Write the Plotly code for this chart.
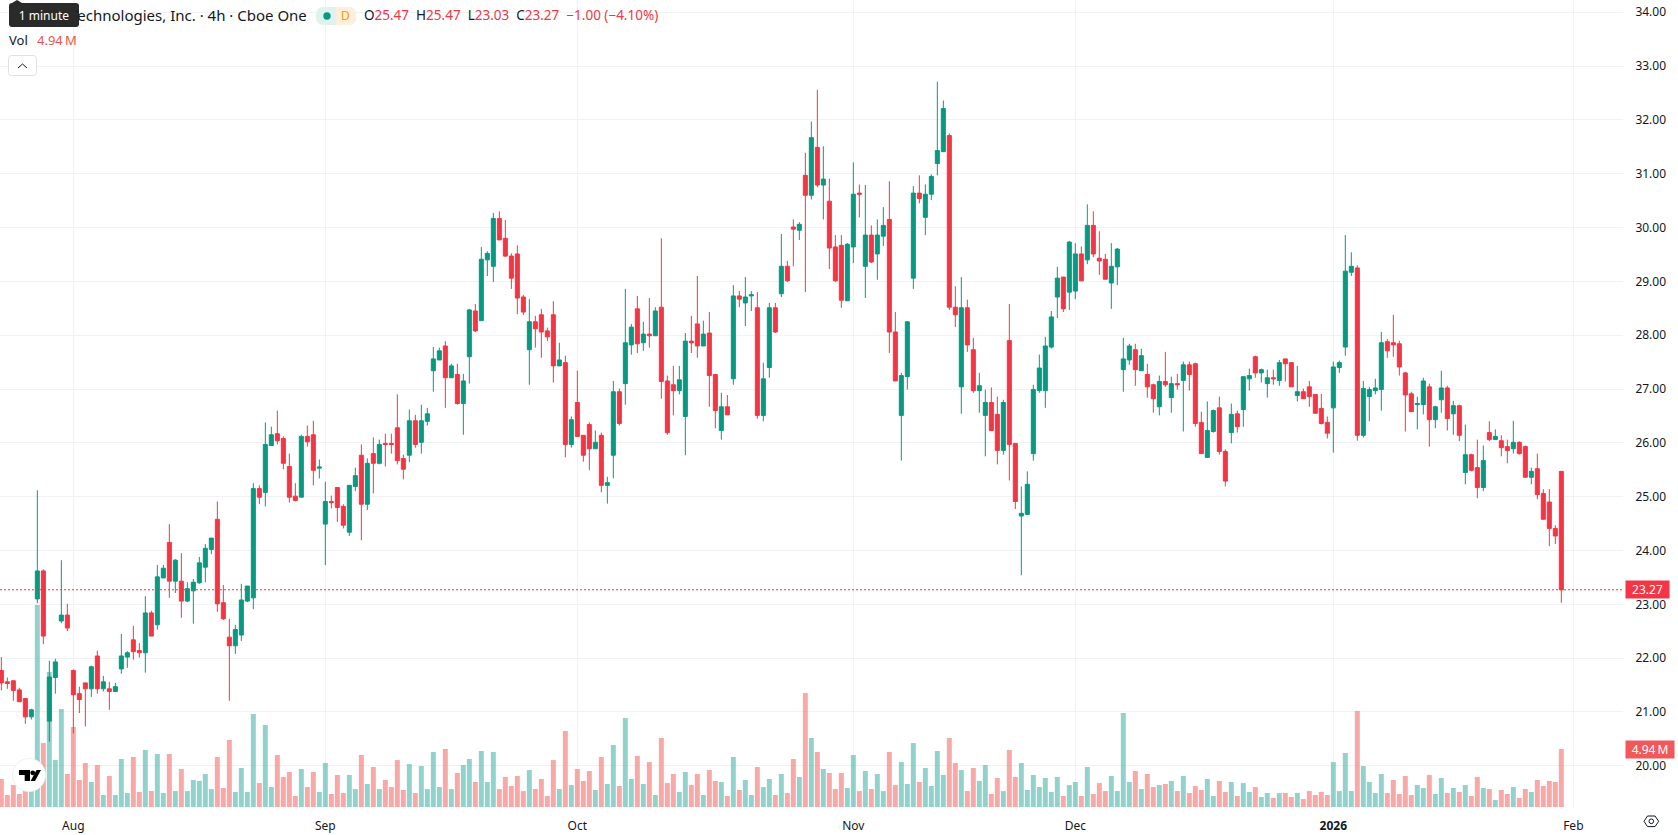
import plotly.graph_objects as go

# OHLC prices for each 4h bar, oldest first
opens = [
    21.77,21.56,21.58,21.41,21.25,20.91,23.10,23.62,20.83,21.64,
    22.69,22.80,21.77,21.34,21.54,21.43,22.04,21.43,21.43,21.38,
    21.80,22.02,22.34,22.14,22.10,22.84,22.62,23.49,24.15,23.43,
    23.43,23.06,23.25,23.40,23.69,24.02,24.58,23.03,22.39,22.23,
    22.43,23.06,23.12,25.15,25.08,25.95,26.17,26.08,25.56,25.01,
    24.99,26.12,26.15,25.53,24.49,24.91,25.17,24.82,24.34,25.19,
    25.77,24.86,25.80,25.62,25.99,25.99,26.28,25.71,25.77,26.41,
    26.01,26.40,27.34,27.54,27.80,27.21,27.27,26.73,27.60,28.45,
    28.27,29.40,29.28,30.17,29.80,29.47,29.51,28.71,27.73,28.25,
    28.38,28.08,28.38,27.43,27.49,25.97,26.75,26.14,26.34,25.89,
    26.14,25.21,25.77,26.95,27.10,27.82,28.49,27.86,28.02,27.99,
    28.52,27.15,27.08,26.97,26.49,27.89,28.21,27.80,28.04,27.27,
    26.23,26.67,27.19,28.73,28.60,28.73,28.51,26.51,27.40,28.51,
    28.77,29.28,30.01,29.95,30.97,30.60,31.49,30.79,30.49,29.64,
    29.67,28.64,29.64,30.64,29.28,29.86,29.51,29.84,30.15,28.06,
    26.51,27.23,29.06,30.64,30.19,30.62,31.19,31.41,31.71,28.52,
    27.04,28.51,27.73,26.97,26.51,26.75,26.53,25.86,27.90,25.99,
    24.64,24.67,25.80,26.97,26.97,27.78,28.71,29.08,28.80,28.82,
    29.51,29.40,30.04,29.43,29.41,28.97,29.27,27.36,27.54,27.73,
    27.34,27.27,27.08,26.67,27.14,26.84,27.10,27.16,27.45,27.47,
    26.38,25.73,26.21,26.65,25.84,26.19,26.54,26.62,27.19,27.60,
    27.30,27.10,27.21,27.16,27.56,27.49,26.88,26.95,27.04,26.90,
    26.64,26.38,26.65,27.40,27.78,29.17,29.25,26.14,26.86,26.97,
    26.99,27.88,27.86,27.84,27.30,26.91,26.71,26.71,27.04,26.43,
    26.80,27.02,26.54,26.69,25.45,25.78,25.54,25.17,26.19,26.06,
    26.04,25.93,25.89,26.01,25.93,25.36,25.52,25.06,24.90,24.41,
    25.47,
]
highs = [
    22.02,21.64,21.58,21.45,21.25,21.06,25.12,23.65,21.95,21.99,
    23.82,23.01,21.79,21.47,21.54,21.86,22.14,21.67,21.56,21.54,
    22.45,22.13,22.60,22.28,23.15,22.88,23.73,23.73,24.49,23.84,
    23.95,23.41,23.47,23.88,24.12,24.23,24.91,23.36,22.73,22.62,
    23.38,23.34,25.25,25.21,26.38,26.30,26.60,26.12,25.80,25.25,
    26.15,26.32,26.41,25.69,25.28,25.02,25.17,24.86,25.21,25.54,
    25.97,25.71,26.10,26.06,26.17,26.17,26.90,25.78,26.62,26.52,
    26.71,26.65,27.78,27.77,27.89,27.47,27.47,27.28,28.49,28.58,
    29.64,29.56,30.27,30.30,30.14,29.52,29.67,28.75,28.67,28.36,
    28.49,28.14,28.63,27.86,27.62,26.49,27.34,26.14,26.38,26.23,
    26.19,25.37,27.15,27.01,28.86,28.21,28.73,28.25,28.69,28.52,
    29.80,27.25,27.43,27.43,28.04,28.36,29.10,28.27,28.43,27.28,
    26.93,26.89,28.93,28.82,29.08,28.82,28.80,27.49,28.60,28.60,
    29.88,29.38,30.15,30.10,31.39,31.97,32.56,31.51,30.91,29.86,
    29.86,29.71,31.21,30.80,30.79,30.04,30.15,30.38,30.86,28.43,
    27.30,28.25,30.77,30.97,30.80,30.99,32.71,32.36,31.75,28.91,
    29.08,28.66,27.95,27.30,26.99,27.03,26.86,26.80,28.58,25.99,
    25.19,25.47,27.08,27.64,27.97,28.45,29.27,29.08,29.75,29.71,
    29.65,30.43,30.30,29.93,29.51,29.71,29.62,27.95,27.84,27.84,
    27.75,27.47,27.10,27.25,27.69,27.23,27.28,27.51,27.51,27.49,
    26.58,26.77,26.62,26.86,25.88,26.73,26.60,27.23,27.38,27.62,
    27.38,27.36,27.36,27.54,27.56,27.49,27.43,27.01,27.15,26.90,
    26.91,26.49,27.51,27.53,29.86,29.54,29.30,27.15,27.04,27.19,
    28.06,27.93,28.38,27.90,27.32,26.95,26.86,27.21,27.10,26.69,
    27.34,27.06,26.78,26.71,26.34,25.80,26.06,25.95,26.40,26.25,
    26.14,26.06,26.41,26.03,25.95,25.54,25.80,25.14,25.14,24.47,
    25.47,
]
lows = [
    21.40,21.43,21.21,21.19,20.78,20.86,23.02,22.26,20.45,21.34,
    22.65,22.50,20.60,20.98,20.73,21.28,21.34,21.38,21.04,21.38,
    21.71,21.82,21.97,22.01,21.73,22.41,22.53,23.49,23.12,23.21,
    22.75,23.04,22.64,23.38,23.41,23.93,22.86,22.71,21.21,22.08,
    22.32,23.04,22.91,24.86,24.82,25.95,25.97,25.51,24.89,24.91,
    24.99,25.93,25.21,25.34,23.73,24.78,24.53,24.41,24.27,25.10,
    24.19,24.75,25.06,25.60,25.56,25.80,25.60,25.32,25.64,25.91,
    25.80,26.32,26.95,27.54,26.65,27.21,26.71,26.15,27.10,28.06,
    28.27,29.10,28.99,29.77,29.45,28.86,28.39,28.38,27.08,27.77,
    27.58,27.89,27.12,27.43,25.73,25.91,26.12,25.65,25.49,25.89,
    25.08,24.87,25.34,26.32,26.71,27.64,27.67,27.71,27.77,27.99,
    26.82,26.15,26.51,26.90,25.77,27.67,27.58,27.80,26.67,26.27,
    26.06,26.52,27.08,28.52,28.17,28.45,26.45,26.40,27.21,28.04,
    28.71,28.99,29.28,29.77,28.80,30.52,30.75,30.15,29.23,28.99,
    28.51,28.64,29.34,30.19,28.69,29.34,29.03,29.66,27.67,27.15,
    25.67,26.99,28.86,30.45,29.86,30.51,30.97,31.41,28.47,28.15,
    26.54,27.69,26.93,26.56,25.75,26.23,25.60,25.78,25.30,24.77,
    23.54,24.67,25.67,26.93,26.65,27.75,28.32,28.43,28.47,28.67,
    29.01,29.32,29.45,29.12,29.04,28.49,28.93,26.95,27.45,27.06,
    27.34,26.84,26.56,26.51,27.04,26.56,26.99,26.21,26.97,26.30,
    25.80,25.73,26.19,25.78,25.19,25.99,26.19,26.30,26.97,27.21,
    27.12,26.84,27.08,27.06,27.14,27.04,26.77,26.82,26.67,26.55,
    26.34,26.08,25.82,27.30,27.62,29.10,26.04,26.10,26.40,26.90,
    26.60,27.58,27.60,27.25,26.21,26.58,26.25,26.53,25.93,26.27,
    26.56,26.23,26.15,26.03,25.23,25.47,24.97,25.10,26.03,26.06,
    25.75,25.62,25.80,25.78,25.36,25.23,24.95,24.58,24.08,24.12,
    23.03,
]
closes = [
    21.54,21.53,21.40,21.19,20.91,21.04,23.62,22.41,21.65,21.93,
    22.80,22.56,21.32,21.23,21.43,21.84,21.43,21.56,21.38,21.47,
    22.04,22.10,22.12,22.10,22.84,22.41,23.51,23.67,23.43,23.82,
    23.06,23.29,23.41,23.77,24.04,24.23,23.01,22.73,22.23,22.53,
    23.08,23.34,25.15,24.99,25.97,26.15,26.04,25.62,24.99,24.93,
    26.12,26.02,25.49,25.55,24.91,24.89,24.80,24.47,25.21,25.39,
    24.86,25.62,25.62,25.97,25.97,25.97,25.67,25.51,26.41,25.97,
    26.41,26.54,27.56,27.71,27.21,27.43,26.73,27.15,28.47,28.08,
    29.41,29.52,30.17,29.77,29.47,29.06,28.69,28.43,28.25,28.12,
    28.06,27.97,27.43,27.54,25.97,26.43,26.12,25.77,25.89,26.01,
    25.21,25.26,26.95,26.36,27.86,28.15,27.84,28.02,27.99,28.45,
    27.14,26.19,26.97,27.17,27.89,27.86,27.80,28.02,27.25,26.60,
    26.67,26.52,28.73,28.67,28.71,28.75,26.51,27.19,28.51,28.06,
    29.28,29.01,29.97,30.06,30.60,31.67,30.79,30.90,29.62,29.01,
    28.65,29.69,30.62,30.62,29.86,29.36,29.86,30.04,28.06,27.15,
    27.25,28.25,30.64,30.54,30.62,30.95,31.43,32.21,28.52,28.38,
    28.51,27.82,26.97,27.06,26.75,26.23,25.86,26.75,25.97,24.91,
    24.69,25.23,26.99,27.39,27.80,28.34,29.06,28.49,29.73,29.51,
    29.01,30.04,29.51,29.38,29.04,29.28,29.60,27.56,27.80,27.36,
    27.62,27.04,26.82,27.14,27.08,27.10,27.08,27.45,27.27,26.36,
    25.80,26.23,26.60,25.84,25.29,26.53,26.30,27.23,27.25,27.30,
    27.36,27.21,27.19,27.49,27.47,27.04,26.95,26.82,26.86,26.55,
    26.36,26.18,27.41,27.49,29.19,29.28,26.14,27.01,26.99,27.02,
    27.86,27.71,27.82,27.41,26.89,26.58,26.73,27.15,26.43,26.67,
    27.02,26.45,26.69,26.14,25.78,25.49,25.17,25.67,26.06,26.12,
    25.91,25.86,26.01,25.80,25.36,25.47,25.04,24.58,24.41,24.27,
    23.27,
]
# Volume per bar, in millions of shares
volumes = [
    2.39,1.02,1.87,1.11,1.36,1.36,17.21,5.45,11.50,4.00,
    8.35,2.81,6.82,2.30,3.75,2.13,3.58,1.02,2.64,1.02,
    4.09,1.19,4.26,1.28,4.86,1.36,4.52,1.19,4.52,1.36,
    3.24,1.36,2.30,2.22,2.81,1.53,4.26,1.62,5.71,1.28,
    3.32,1.28,7.92,2.04,6.99,1.70,4.43,2.56,2.98,0.94,
    3.24,1.70,2.98,1.28,3.75,1.11,2.73,1.19,2.73,1.53,
    4.43,1.96,3.41,1.53,2.30,1.70,4.00,1.45,3.66,1.19,
    3.49,1.53,4.69,1.70,4.94,1.53,2.90,3.58,4.09,2.13,
    4.77,2.13,4.69,1.53,2.56,1.79,2.64,1.36,3.15,1.53,
    2.39,0.94,4.00,1.53,6.48,1.87,3.24,2.22,3.07,1.45,
    4.26,1.96,5.28,1.79,7.58,2.39,4.35,1.96,3.83,1.02,
    5.88,2.04,2.81,1.28,2.98,1.87,2.81,1.02,3.15,2.22,
    2.13,0.94,4.26,1.45,2.30,1.02,3.41,1.70,2.39,1.02,
    2.81,1.19,4.09,2.56,9.71,5.88,4.69,3.24,2.90,1.53,
    2.90,1.62,4.43,1.36,3.07,1.53,2.81,1.36,4.69,1.87,
    3.83,1.96,5.45,2.13,3.32,1.79,4.77,2.73,5.88,3.75,
    3.15,1.36,3.32,2.22,3.58,1.11,2.47,1.36,4.86,2.56,
    3.75,1.45,2.73,1.70,2.47,1.28,2.56,0.94,1.87,2.13,
    0.94,3.41,1.11,2.04,1.36,2.64,1.36,8.01,2.13,3.07,
    1.53,2.81,1.70,1.87,1.96,2.22,1.36,2.64,1.19,1.79,
    1.45,2.39,0.94,2.22,1.28,2.13,0.94,2.04,1.28,1.70,
    0.85,1.19,0.77,1.19,1.19,0.85,1.19,0.68,1.36,1.02,
    1.28,1.02,3.83,1.36,4.60,1.36,8.18,3.49,2.13,1.19,
    2.81,1.19,2.30,1.11,2.64,1.02,1.87,1.62,2.73,1.11,
    2.47,1.19,1.62,1.28,1.87,0.94,2.56,1.62,1.53,0.60,
    1.45,1.11,1.70,0.77,1.53,1.28,2.30,1.79,2.22,2.13,
    4.94,
]
# Time axis labels sit on the first bar of each period
period_bars = [12, 54, 96, 142, 179, 222, 262]
period_labels = ["Aug", "Sep", "Oct", "Nov", "Dec", "<b>2026</b>", "Feb"]
price_ticks = list(range(20, 35))
last_close = closes[-1]
last_volume = volumes[-1]

UP, DOWN = "#089981", "#f23645"
VOL_UP, VOL_DOWN = "rgba(38,166,154,0.5)", "rgba(239,83,80,0.5)"
INK = "#131722"
GRID = "#f1f2f4"
FONT = "Noto Sans"

WIDTH, HEIGHT = 1678, 835
PLOT_W, PLOT_H = 1623, 807


def px(x):
    return x / PLOT_W


def py(y):
    return 1 - y / PLOT_H


def rounded(x0, y0, x1, y1, r):
    return (
        f"M{px(x0 + r)},{py(y0)} L{px(x1 - r)},{py(y0)} "
        f"Q{px(x1)},{py(y0)} {px(x1)},{py(y0 + r)} L{px(x1)},{py(y1 - r)} "
        f"Q{px(x1)},{py(y1)} {px(x1 - r)},{py(y1)} L{px(x0 + r)},{py(y1)} "
        f"Q{px(x0)},{py(y1)} {px(x0)},{py(y1 - r)} L{px(x0)},{py(y0 + r)} "
        f"Q{px(x0)},{py(y0)} {px(x0 + r)},{py(y0)} Z"
    )


def polygon(points, close=True):
    body = " L".join(f"{px(x)},{py(y)}" for x, y in points)
    return f"M{body}" + (" Z" if close else "")


def paper_shape(path, fill=None, line=None, width=1):
    return dict(
        type="path", xref="paper", yref="paper", path=path, layer="above",
        fillcolor=fill or "rgba(0,0,0,0)",
        line=dict(color=line or "rgba(0,0,0,0)", width=width if line else 0),
    )


def paper_circle(cx, cy, r, fill=None, line=None, width=1):
    return dict(
        type="circle", xref="paper", yref="paper", layer="above",
        x0=px(cx - r), x1=px(cx + r), y0=py(cy + r), y1=py(cy - r),
        fillcolor=fill or "rgba(0,0,0,0)",
        line=dict(color=line or "rgba(0,0,0,0)", width=width if line else 0),
    )


def label(x, y, text, size=13, color=INK, xanchor="left", **kw):
    return dict(
        xref="paper", yref="paper", x=px(x), y=py(y), text=text, showarrow=False,
        xanchor=xanchor, yanchor="middle", font=dict(family=FONT, size=size, color=color),
        borderpad=0, borderwidth=0, **kw,
    )


bars = list(range(len(closes)))
volume_colors = [VOL_UP if c >= o else VOL_DOWN for o, c in zip(opens, closes)]

fig = go.Figure()
fig.add_trace(go.Bar(
    x=bars, y=volumes, yaxis="y", width=0.83,
    marker=dict(color=volume_colors, line=dict(width=0)), showlegend=False,
))
fig.add_trace(go.Candlestick(
    x=bars, open=opens, high=highs, low=lows, close=closes, yaxis="y2",
    whiskerwidth=0, showlegend=False,
    increasing=dict(line=dict(color=UP, width=1), fillcolor=UP),
    decreasing=dict(line=dict(color=DOWN, width=1), fillcolor=DOWN),
))

shapes = [
    # Last close marker
    dict(type="line", xref="paper", x0=0, x1=1, yref="y2", y0=last_close, y1=last_close,
         line=dict(color=DOWN, width=1, dash="2px,2px"), layer="above"),
    # Interval tooltip behind the legend text
    paper_shape(rounded(9, 3, 79, 27, 3), fill="#2a2a2a"),
    paper_shape(polygon([(12, 3), (17, 0), (22, 3)]), fill="#2a2a2a"),
    # Status pill
    paper_shape(rounded(316, 7, 356, 25, 8), fill="#def2ee"),
    paper_shape(
        f"M{px(336)},{py(7)} L{px(348)},{py(7)} Q{px(356)},{py(7)} {px(356)},{py(16)} "
        f"Q{px(356)},{py(25)} {px(348)},{py(25)} L{px(336)},{py(25)} Z",
        fill="#fdefdc"),
    paper_circle(327, 16, 3.7, fill=UP),
    # Collapse button
    paper_shape(rounded(8.5, 55.5, 36.5, 75.5, 3), fill="#ffffff", line="#dfe1e6"),
    paper_shape(polygon([(18, 68), (22.5, 64), (27, 68)], close=False), line=INK, width=1),
    # Logo badge
    paper_circle(29, 775, 16.5, fill="#ffffff", line="#eef0f2", width=1),
    paper_shape(polygon([(19, 770), (30, 770), (30, 781), (24.7, 781), (24.7, 775), (19, 775)]), fill="#000000"),
    paper_circle(32.7, 772.8, 2.4, fill="#000000"),
    paper_shape(polygon([(36.5, 770), (41, 770), (35, 781), (30.6, 781)]), fill="#000000"),
    # Settings icon on the axis corner
    paper_shape(polygon([(1644, 821.3), (1647.5, 816), (1655, 816), (1658.7, 821.3), (1655, 826.6), (1647.5, 826.6)]),
                line=INK, width=1),
    paper_circle(1651.3, 821.3, 2.3, line=INK, width=1),
]

annotations = [
    label(307, 15.5, "Technologies, Inc. · 4h · Cboe One", size=15, xanchor="right"),
    label(44, 15, "1 minute", size=12, color="#ffffff", xanchor="center",
          bgcolor="#2a2a2a", width=64, height=18),
    label(345, 16, "D", size=12, color="#ff9800", xanchor="center"),
    label(364, 15.5,
          f'O<span style="color:{DOWN}">25.47</span>  H<span style="color:{DOWN}">25.47</span>  '
          f'L<span style="color:{DOWN}">23.03</span>  C<span style="color:{DOWN}">23.27</span>  '
          f'<span style="color:{DOWN}">−1.00 (−4.10%)</span>', size=13.5),
    label(9, 40, "Vol", size=13),
    label(36.5, 40, "4.94\u2009M", size=13, color="#f0534f"),
    # Axis tags carrying the last close and the last volume
    dict(xref="paper", yref="y2", x=px(1625), y=last_close, text=f"{last_close:.2f}", showarrow=False,
         xanchor="left", yanchor="middle", width=43, height=17, bgcolor=DOWN, borderpad=0,
         font=dict(family=FONT, size=12, color="#ffffff")),
    dict(xref="paper", yref="y", x=px(1625), y=last_volume, text=f"{last_volume:.2f}\u2009M", showarrow=False,
         xanchor="left", yanchor="middle", width=48, height=17, bgcolor="#f0585a", borderpad=0,
         font=dict(family=FONT, size=12, color="#ffffff")),
]

fig.update_layout(
    width=WIDTH, height=HEIGHT,
    margin=dict(l=0, r=WIDTH - PLOT_W, t=0, b=HEIGHT - PLOT_H, pad=0, autoexpand=False),
    paper_bgcolor="#ffffff", plot_bgcolor="#ffffff",
    font=dict(family=FONT, size=12, color=INK),
    barmode="overlay", boxgap=0.33, boxgroupgap=0.0, showlegend=False, dragmode=False,
    xaxis=dict(
        range=[-0.222, 270.28], tickmode="array", tickvals=period_bars, ticktext=period_labels,
        showgrid=True, gridcolor=GRID, gridwidth=1, zeroline=False, showline=False,
        ticks="outside", ticklen=8, tickcolor="rgba(0,0,0,0)", tickangle=0,
        rangeslider=dict(visible=False), tickfont=dict(family=FONT, size=12, color=INK),
    ),
    yaxis=dict(
        range=[0, 68.76], visible=False, showgrid=False, zeroline=False, fixedrange=True,
    ),
    yaxis2=dict(
        range=[19.234, 34.228], overlaying="y", side="right", anchor="x",
        tickmode="array", tickvals=price_ticks, ticktext=[f"{v:.2f}" for v in price_ticks],
        showgrid=True, gridcolor=GRID, gridwidth=1, zeroline=False, showline=False,
        ticks="outside", ticklen=9, tickcolor="rgba(0,0,0,0)",
        tickfont=dict(family=FONT, size=12, color=INK),
    ),
    shapes=shapes, annotations=annotations,
)

fig.write_html("out.html", config=dict(displayModeBar=False))
